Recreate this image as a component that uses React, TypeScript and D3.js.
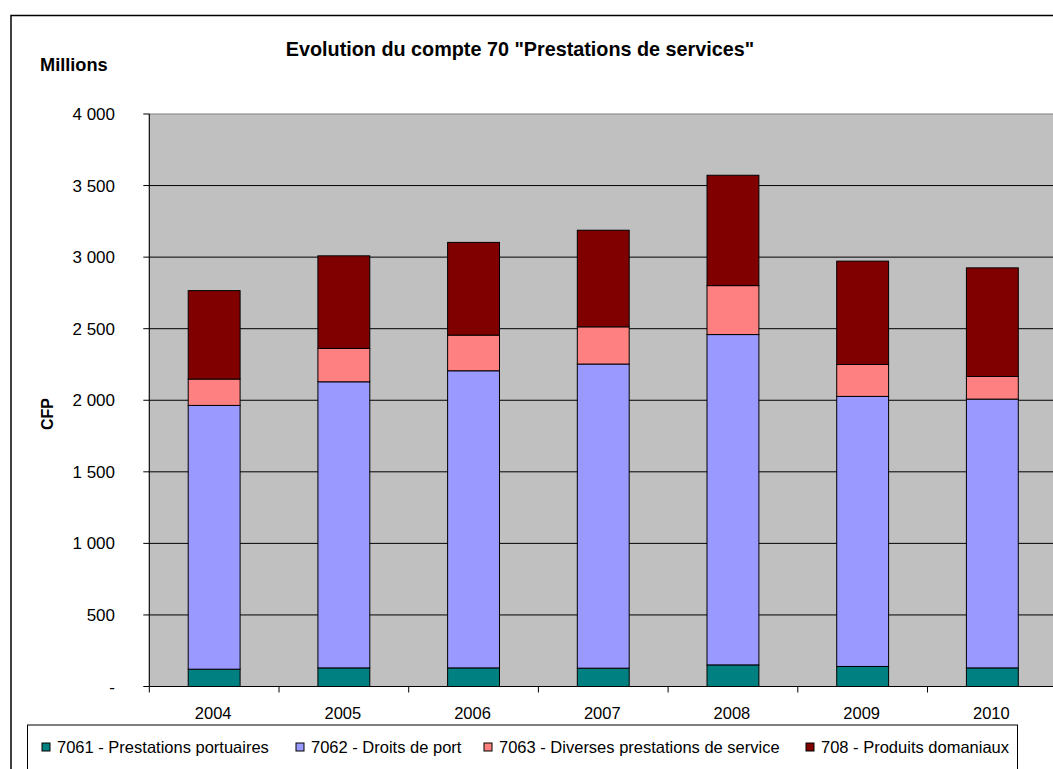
import React from "react";
import * as d3 from "d3";

const years = ["2004", "2005", "2006", "2007", "2008", "2009", "2010"];
const s7061 = [121, 130, 130, 128, 151, 140, 130];
const s7062 = [1843, 1999, 2076, 2125, 2308, 1887, 1878];
const s7063 = [184, 233, 249, 260, 342, 223, 158];
const s708 = [618, 647, 648, 675, 771, 722, 759];
const seriesNames = [
  "7061 - Prestations portuaires",
  "7062 - Droits de port",
  "7063 - Diverses prestations de service",
  "708 - Produits domaniaux",
];
const seriesColors = ["#008080", "#9999FF", "#FF8080", "#800000"];
const yTicks = [0, 500, 1000, 1500, 2000, 2500, 3000, 3500, 4000];
const legendX = [42, 296, 484, 806];

const FONT = "Arial, 'Liberation Sans', Helvetica, sans-serif";

function fmt(v: number) {
  if (v === 0) return "-";
  const s = String(v);
  return s.length > 3 ? s.slice(0, s.length - 3) + " " + s.slice(-3) : s;
}

export default function App() {
  const W = 1053, H = 769;
  const left = 149.3, right = 149.3 + 7 * 129.7, top = 114, bottom = 686.5;
  const x = d3.scaleBand<string>().domain(years).range([left, right]).paddingInner(0.6).paddingOuter(0.3);
  const xb = d3.scaleBand<string>().domain(years).range([left, right]);
  const y = d3.scaleLinear().domain([0, 4000]).range([bottom, top]);

  const rows = years.map((yr, i) => ({
    year: yr,
    a: s7061[i], b: s7062[i], c: s7063[i], d: s708[i],
  }));
  const stack = d3.stack<any>().keys(["a", "b", "c", "d"]);
  const layers = stack(rows);

  return (
    <svg width={W} height={H} style={{ position: "absolute", left: 0, top: 0, background: "#fff" }} fontFamily={FONT}>
      <rect x={0} y={0} width={W} height={H} fill="#fff" />
      {/* outer chart border */}
      <rect x={11} y={15.5} width={W + 20} height={H + 20} fill="none" stroke="#000" strokeWidth={1.5} />
      {/* plot area */}
      <rect x={left} y={top} width={right - left} height={bottom - top} fill="#C0C0C0" stroke="#808080" strokeWidth={1} />
      {yTicks.filter((t) => t > 0 && t < 4000).map((t) => (
        <line key={t} x1={left} x2={right} y1={y(t)} y2={y(t)} stroke="#000" strokeWidth={1} />
      ))}
      {/* bars */}
      {layers.map((layer, li) => (
        <g key={li}>
          {layer.map((seg: any, i: number) => (
            <rect
              key={i}
              x={x(years[i])!}
              width={x.bandwidth()}
              y={y(seg[1])}
              height={y(seg[0]) - y(seg[1])}
              fill={seriesColors[li]}
              stroke="#000"
              strokeWidth={1}
            />
          ))}
        </g>
      ))}
      {/* y axis */}
      <line x1={left} x2={left} y1={top} y2={bottom} stroke="#000" strokeWidth={1} />
      {yTicks.map((t) => (
        <g key={t}>
          <line x1={left - 6} x2={left} y1={y(t)} y2={y(t)} stroke="#000" strokeWidth={1} />
          <text x={115} y={y(t)} dy="0.36em" textAnchor="end" fontSize={17} fill="#000">{fmt(t)}</text>
        </g>
      ))}
      {/* x axis */}
      <line x1={left} x2={right} y1={bottom} y2={bottom} stroke="#000" strokeWidth={1} />
      {years.map((yr, i) => (
        <g key={yr}>
          <line x1={xb(yr)!} x2={xb(yr)!} y1={bottom} y2={bottom + 6} stroke="#000" strokeWidth={1} />
          <text x={x(yr)! + x.bandwidth() / 2 - 1} y={719} textAnchor="middle" fontSize={16.5} fill="#000">{yr}</text>
        </g>
      ))}
      {/* titles */}
      <text x={520} y={56} textAnchor="middle" fontSize={19.8} fontWeight="bold" fill="#000">
        Evolution du compte 70 "Prestations de services"
      </text>
      <text x={40} y={71} fontSize={18.2} fontWeight="bold" fill="#000">Millions</text>
      <text transform={`translate(53,414) rotate(-90)`} textAnchor="middle" fontSize={16} fontWeight="bold" fill="#000">CFP</text>
      {/* legend */}
      <rect x={27.5} y={725} width={990} height={60} fill="#fff" stroke="#000" strokeWidth={1} />
      {seriesNames.map((n, i) => (
        <g key={n}>
          <rect x={legendX[i]} y={743} width={8} height={8} fill={seriesColors[i]} stroke="#000" strokeWidth={1} />
          <text x={legendX[i] + 15} y={752.5} fontSize={16.5} fill="#000">{n}</text>
        </g>
      ))}
    </svg>
  );
}
